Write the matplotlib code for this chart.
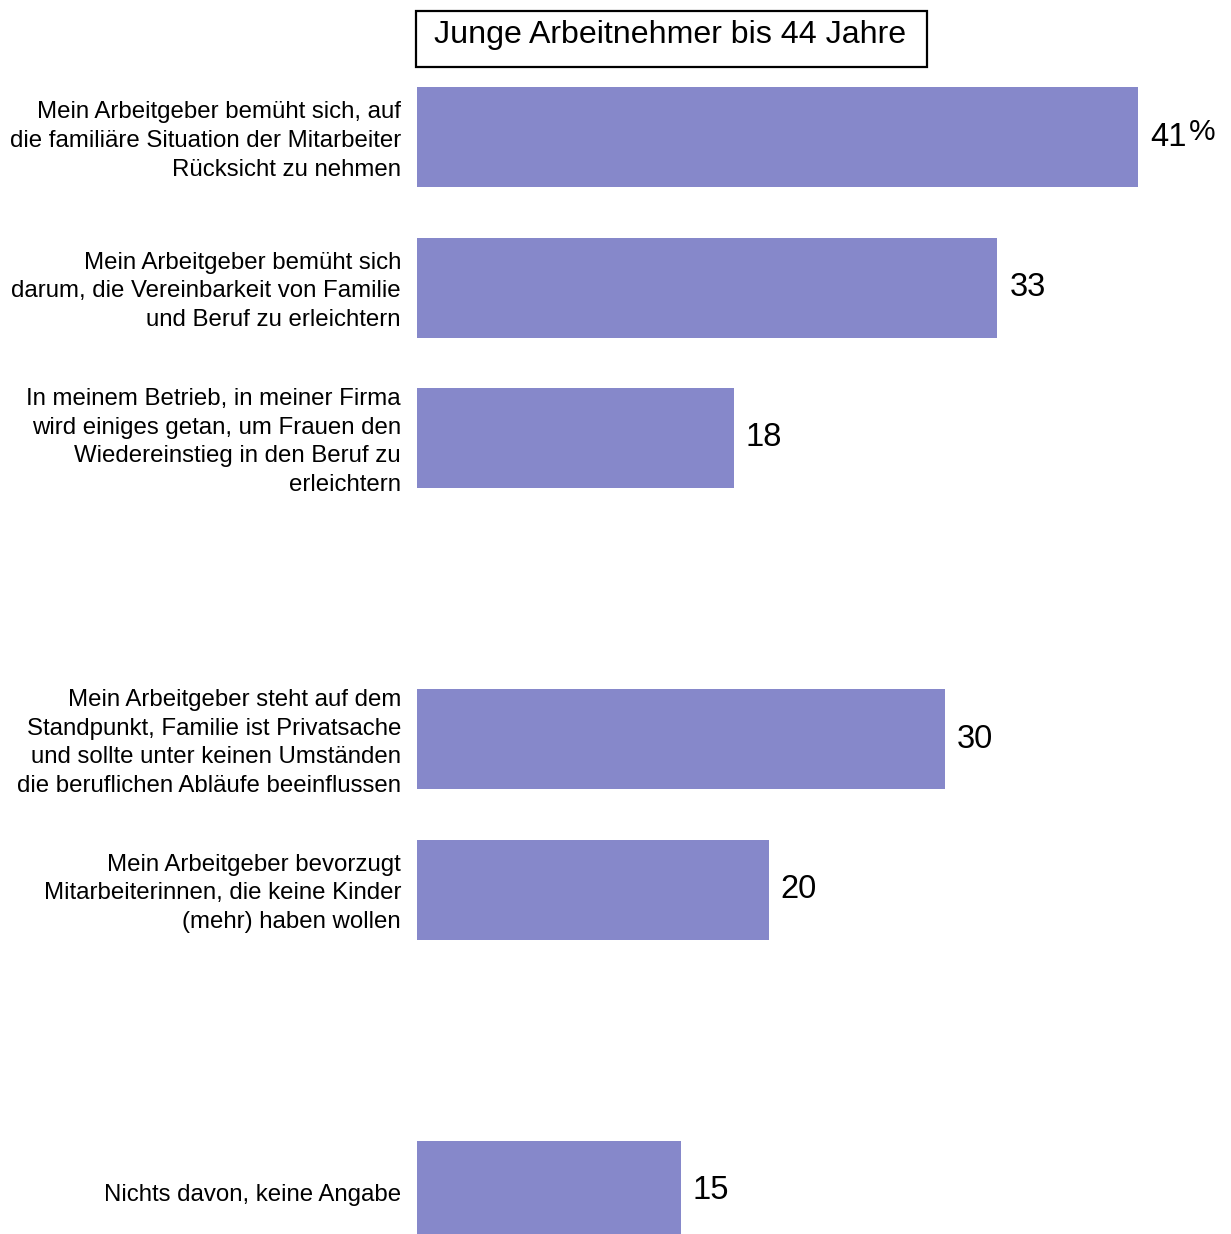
import matplotlib
matplotlib.use("Agg")
import matplotlib.pyplot as plt
from matplotlib.patches import Rectangle

plt.rcParams['font.family'] = ['Liberation Sans', 'DejaVu Sans']

title = "Junge Arbeitnehmer bis 44 Jahre"
categories = [
    "Mein Arbeitgeber bemüht sich, auf\ndie familiäre Situation der Mitarbeiter\nRücksicht zu nehmen",
    "Mein Arbeitgeber bemüht sich\ndarum, die Vereinbarkeit von Familie\nund Beruf zu erleichtern",
    "In meinem Betrieb, in meiner Firma\nwird einiges getan, um Frauen den\nWiedereinstieg in den Beruf zu\nerleichtern",
    "Mein Arbeitgeber steht auf dem\nStandpunkt, Familie ist Privatsache\nund sollte unter keinen Umständen\ndie beruflichen Abläufe beeinflussen",
    "Mein Arbeitgeber bevorzugt\nMitarbeiterinnen, die keine Kinder\n(mehr) haben wollen",
    "Nichts davon, keine Angabe",
]
values = [41, 33, 18, 30, 20, 15]
positions = [0, 1, 2, 4, 5, 7]
value_labels = ["41", "33", "18", "30", "20", "15"]

W, H = 1231, 1234
fig = plt.figure(figsize=(W / 100, H / 100), dpi=100)
fig.patch.set_facecolor("white")

px_per_unit = 721 / 41
slot = 150.5
y0 = 137
left_px = 417
ax = fig.add_axes([left_px / W, 0, (W - left_px) / W, 1])
ax.set_xlim(0, (W - left_px) / px_per_unit)
ax.set_ylim((H - y0) / slot, -y0 / slot)
ax.axis("off")

color = "#8688CA"
ax.barh(positions, values, height=100 / slot, color=color, align="center")

for p, v, lab, cat in zip(positions, values, value_labels, categories):
    ax.annotate(lab, xy=(v, p), xytext=(12, 0), textcoords="offset pixels",
                ha="left", va="center", fontsize=23.5, color="black")
    ax.annotate(cat, xy=(0, p), xytext=(-16, -4), textcoords="offset pixels",
                ha="right", va="center", fontsize=17.3, color="black",
                linespacing=1.40, annotation_clip=False)

# percent sign after first value
ax.annotate("%", xy=(values[0], positions[0]), xytext=(51, 5), textcoords="offset pixels",
            ha="left", va="center", fontsize=21.5, color="black")

# title box
fig.patches.append(Rectangle((416 / W, 1 - 67 / H), 511 / W, 56 / H,
                             transform=fig.transFigure, fill=False,
                             edgecolor="black", linewidth=1.6))
fig.text(670 / W, 1 - 35 / H, title, ha="center", va="center", fontsize=23.1, color="black")

fig.savefig("out.png", dpi=100)
